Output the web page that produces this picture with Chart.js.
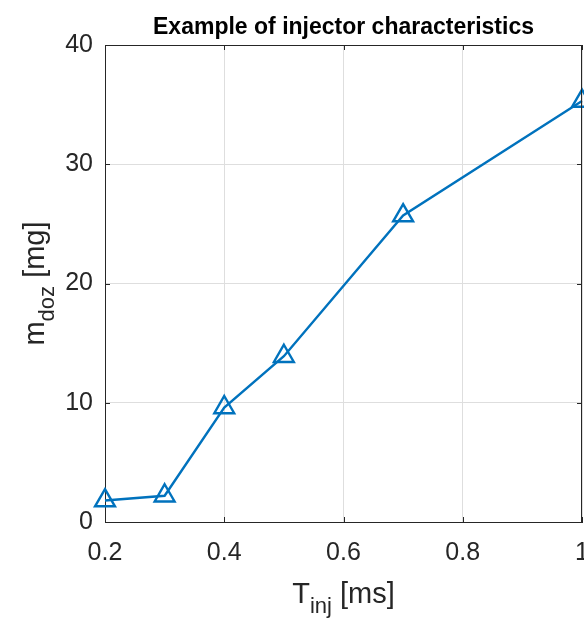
<!DOCTYPE html>
<html>
<head>
<meta charset="utf-8">
<script src="https://cdn.jsdelivr.net/npm/chart.js@4/dist/chart.umd.min.js"></script>
<style>
  html, body { margin: 0; padding: 0; background: #fff; }
  #wrap { width: 584px; height: 619px; position: relative; }
</style>
</head>
<body>
<div id="wrap"><canvas id="myChart"></canvas></div>
<script>
// injection time [ms] and dosed mass [mg]
const tinj = [0.2, 0.3, 0.4, 0.5, 0.7, 1.0];
const mdoz = [1.8, 2.2, 9.6, 13.9, 25.7, 35.3];
const xTicks = [0.2, 0.4, 0.6, 0.8, 1];
const yTicks = [0, 10, 20, 30, 40];

const axisColor = "#262626";
const lineColor = "#0072BD";
const fontFam = "'Liberation Sans', Arial, Helvetica, sans-serif";

// draws box, inward ticks, title and subscripted axis labels
const matlabLook = {
  id: "matlabLook",
  afterDraw(chart) {
    const c = chart.ctx;
    const a = chart.chartArea;
    const xs = chart.scales.x;
    const ys = chart.scales.y;
    c.save();
    c.strokeStyle = axisColor;
    c.lineWidth = 1;
    c.beginPath();
    c.moveTo(a.left, a.top + 0.5);
    c.lineTo(a.right, a.top + 0.5);
    c.moveTo(a.right - 0.5, a.top);
    c.lineTo(a.right - 0.5, a.bottom);
    // inward ticks
    xTicks.forEach(v => {
      const px = Math.round(xs.getPixelForValue(v)) + 0.5;
      c.moveTo(px, a.bottom);
      c.lineTo(px, a.bottom - 5);
      c.moveTo(px, a.top);
      c.lineTo(px, a.top + 5);
    });
    yTicks.forEach(v => {
      const py = Math.round(ys.getPixelForValue(v)) + 0.5;
      c.moveTo(a.left, py);
      c.lineTo(a.left + 5, py);
      c.moveTo(a.right, py);
      c.lineTo(a.right - 5, py);
    });
    c.stroke();

    // title
    c.fillStyle = "#000";
    c.font = "bold 23px " + fontFam;
    c.textAlign = "center";
    c.textBaseline = "alphabetic";
    c.fillText("Example of injector characteristics", (a.left + a.right) / 2, 34);

    // x label: T_inj [ms]
    c.fillStyle = axisColor;
    const big = "29px " + fontFam;
    const small = "22px " + fontFam;
    c.font = big;
    const wT = c.measureText("T").width;
    const wR = c.measureText(" [ms]").width;
    c.font = small;
    const wS = c.measureText("inj").width;
    let x0 = (a.left + a.right) / 2 - (wT + wS + wR) / 2;
    const yb = 603;
    c.textAlign = "left";
    c.font = big;
    c.fillText("T", x0, yb);
    c.font = small;
    c.fillText("inj", x0 + wT, yb + 10);
    c.font = big;
    c.fillText(" [ms]", x0 + wT + wS, yb);

    // y label: m_doz [mg]
    c.translate(44, (a.top + a.bottom) / 2);
    c.rotate(-Math.PI / 2);
    c.font = big;
    const wm = c.measureText("m").width;
    const wr = c.measureText(" [mg]").width;
    c.font = small;
    const wd = c.measureText("doz").width;
    x0 = -(wm + wd + wr) / 2;
    c.font = big;
    c.fillText("m", x0, 0);
    c.font = small;
    c.fillText("doz", x0 + wm, 10);
    c.font = big;
    c.fillText(" [mg]", x0 + wm + wd, 0);
    c.restore();
  }
};

const ctx = document.getElementById("myChart").getContext("2d");

new Chart(ctx, {
  type: "scatter",
  data: {
    datasets: [{
      data: tinj.map((t, i) => ({ x: t, y: mdoz[i] })),
      showLine: true,
      borderColor: lineColor,
      borderWidth: 2.4,
      pointStyle: "triangle",
      pointRadius: 11.5,
      pointBorderWidth: 2.4,
      pointBackgroundColor: "rgba(0,0,0,0)",
      pointBorderColor: lineColor,
      clip: false
    }]
  },
  options: {
    responsive: true,
    maintainAspectRatio: false,
    animation: false,
    layout: { autoPadding: false, padding: { top: 45, right: 2, left: 0, bottom: 0 } },
    plugins: {
      legend: { display: false },
      title: { display: false },
      tooltip: { enabled: false }
    },
    scales: {
      x: {
        type: "linear",
        min: 0.2,
        max: 1,
        afterBuildTicks: (s) => { s.ticks = xTicks.map(v => ({ value: v })); },
        afterFit: (s) => {
          s.height = 97;
          s.paddingLeft = 0;
          s.paddingRight = 0;
        },
        ticks: {
          color: axisColor,
          font: { size: 25, family: fontFam },
          padding: 16,
          maxRotation: 0,
          callback: (v) => String(v)
        },
        grid: { color: "#dedede", drawTicks: false },
        border: { color: axisColor, width: 1 }
      },
      y: {
        min: 0,
        max: 40,
        afterBuildTicks: (s) => { s.ticks = yTicks.map(v => ({ value: v })); },
        afterFit: (s) => {
          s.width = 105;
          s.paddingTop = 0;
          s.paddingBottom = 0;
        },
        ticks: {
          color: axisColor,
          font: { size: 25, family: fontFam },
          padding: 12
        },
        grid: { color: "#dedede", drawTicks: false },
        border: { color: axisColor, width: 1 }
      }
    }
  },
  plugins: [matlabLook]
});
</script>
</body>
</html>
